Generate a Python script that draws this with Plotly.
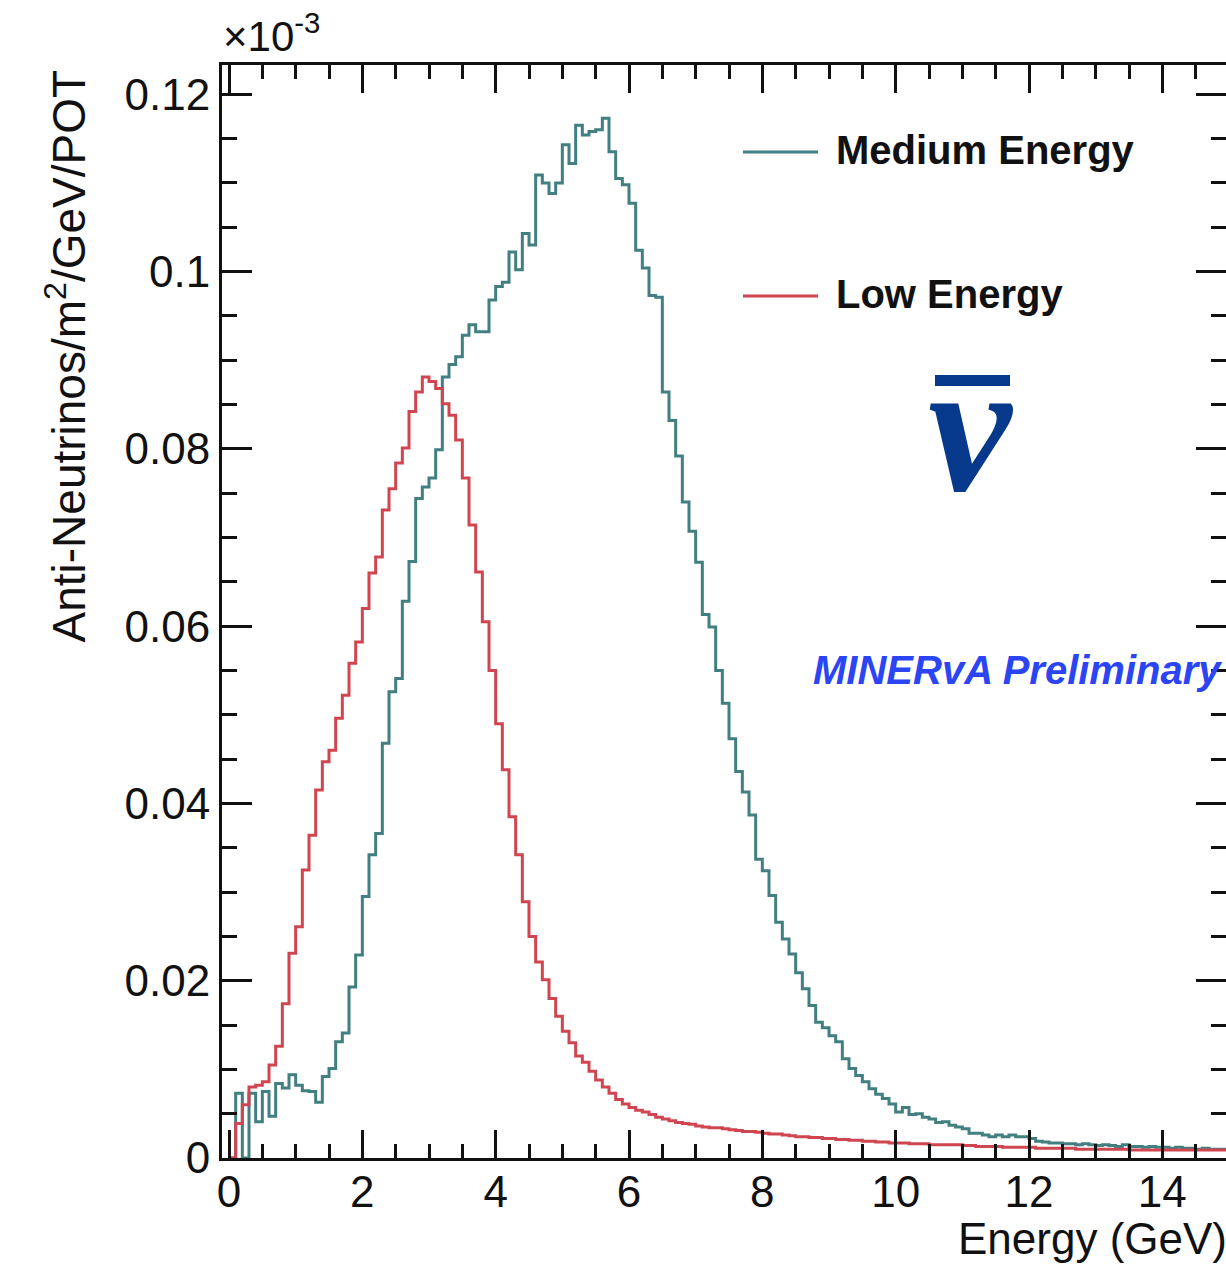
import numpy as np
import plotly.graph_objects as go

# Histogram binning (GeV)
bin_width = 0.1
energy_start = 0.0

# Anti-neutrino flux per bin, in units of 1e-3 /m^2/GeV/POT
medium_energy = [
    0.0, 0.0073, 0.0, 0.0073, 0.0041, 0.0075, 0.0047, 0.0084, 0.0079, 0.0094,
    0.0082, 0.0076, 0.0075, 0.0063,
    0.0092, 0.0101, 0.0131, 0.0141, 0.0193, 0.0229, 0.0295, 0.0342, 0.0366,
    0.0468, 0.0526, 0.0541, 0.0628, 0.0673, 0.0744, 0.0757, 0.0767, 0.0799,
    0.0881, 0.0895, 0.0904, 0.0928, 0.0940, 0.0932, 0.0932, 0.0968,
    0.0983, 0.0988, 0.1022, 0.1002, 0.1043, 0.1030, 0.1109, 0.1100, 0.1088, 0.1100,
    0.1143, 0.1122, 0.1165, 0.1154, 0.1158, 0.1160, 0.1173, 0.1135, 0.1105, 0.1098,
    0.1077, 0.1024, 0.1004, 0.0973, 0.0971, 0.0864, 0.0832, 0.0792, 0.0740, 0.0707,
    0.0672, 0.0613, 0.0599, 0.0550, 0.0513, 0.0473, 0.0436, 0.0413, 0.0387, 0.0337,
    0.0324, 0.0296, 0.0266, 0.0247, 0.0230, 0.0209, 0.0191, 0.0172, 0.0153, 0.0147,
    0.0138, 0.0131, 0.0112, 0.0101, 0.0093, 0.0086, 0.0078, 0.0072, 0.0067, 0.0061,
    0.0052, 0.0057, 0.0049, 0.0050, 0.0046, 0.0044, 0.0040, 0.0041, 0.0037, 0.0035,
    0.0033, 0.0028, 0.0028, 0.0026, 0.0024, 0.0026, 0.0024, 0.0026, 0.0024, 0.0024,
    0.0022, 0.0019, 0.0018, 0.0017, 0.0017, 0.0016, 0.0016, 0.0015, 0.0016, 0.0015,
    0.0014, 0.0015, 0.0014, 0.0013, 0.0015, 0.0013, 0.0013, 0.0012, 0.0013, 0.0012,
    0.0012, 0.0011, 0.0012, 0.0011, 0.0011, 0.0010, 0.0011, 0.0010, 0.0010, 0.0010,
]

low_energy = [
    0.0, 0.0039, 0.0060, 0.0080, 0.0082, 0.0086, 0.0105, 0.0126, 0.0174, 0.0231,
    0.0261, 0.0325, 0.0364, 0.0415,
    0.0447, 0.0460, 0.0496, 0.0522, 0.0558, 0.0582,
    0.0620, 0.0660, 0.0678, 0.0731, 0.0755, 0.0784, 0.0801, 0.0842, 0.0864, 0.0881,
    0.0876, 0.0868, 0.0851, 0.0838, 0.0810, 0.0767, 0.0714, 0.0661, 0.0605, 0.0550,
    0.0490, 0.0438, 0.0385, 0.0342, 0.0289, 0.0250, 0.0221, 0.0201, 0.0180, 0.0160,
    0.0143, 0.0130, 0.0115, 0.0108, 0.0098, 0.0088, 0.0080, 0.0073, 0.0066, 0.0061,
    0.0057, 0.0054, 0.0052, 0.0049, 0.0046, 0.0044, 0.0042, 0.0040, 0.0039, 0.0038,
    0.0036, 0.0035, 0.0034, 0.0034, 0.0033, 0.0032, 0.0031, 0.0030, 0.0030, 0.0029,
    0.0028, 0.0027, 0.0027, 0.0026, 0.0025, 0.0024, 0.0024, 0.0023, 0.0023, 0.0022,
    0.0022, 0.0021, 0.0021, 0.0020, 0.0020, 0.0019, 0.0019, 0.0018, 0.0018, 0.0017,
    0.0017, 0.0017, 0.0016, 0.0016, 0.0016, 0.0015, 0.0015, 0.0015, 0.0015, 0.0015,
    0.0014, 0.0014, 0.0013, 0.0013, 0.0013, 0.0013, 0.0012, 0.0012, 0.0012, 0.0012,
    0.0012, 0.0011, 0.0011, 0.0011, 0.0011, 0.0011, 0.0011, 0.0010, 0.0010, 0.0010,
    0.0010, 0.0010, 0.0010, 0.0010, 0.0010, 0.0009, 0.0009, 0.0009, 0.0009, 0.0009,
    0.0009, 0.0009, 0.0009, 0.0009, 0.0009, 0.0009, 0.0009, 0.0009, 0.0009, 0.0009,
]

series_names = ["Medium Energy", "Low Energy"]
series_colors = ["#427f80", "#cf4550"]

# Page / frame geometry (pixels)
W, H = 1226, 1266
L, R, T, B = 222, 0, 65, 108
PW, PH = W - L - R, H - T - B

FONT = "Liberation Sans, Arial, Helvetica, sans-serif"
BLACK = "#111111"


def px(xp):
    return (xp - L) / PW


def py(yp):
    return (H - B - yp) / PH


def step_xy(values):
    edges = energy_start + bin_width * np.arange(len(values) + 1)
    return edges, list(values) + [values[-1]]


fig = go.Figure()
for name, vals, col in zip(series_names, [medium_energy, low_energy], series_colors):
    xs, ys = step_xy(vals)
    fig.add_trace(go.Scatter(x=xs, y=ys, mode="lines", name=name,
                             line=dict(color=col, width=3, shape="hv"),
                             showlegend=False, hoverinfo="skip"))

# empty trace that carries the right-hand tick axis
fig.add_trace(go.Scatter(x=[], y=[], yaxis="y2", showlegend=False))

y_range = [0, 0.1233]
x_range = [-0.105, 14.955]

fig.update_layout(
    width=W, height=H,
    margin=dict(l=L, r=R, t=T, b=B, pad=0),
    paper_bgcolor="white", plot_bgcolor="white",
    font=dict(family=FONT, color=BLACK),
    xaxis=dict(range=x_range, tickmode="linear", tick0=0, dtick=2,
               ticks="inside", ticklen=28, tickwidth=3, tickcolor=BLACK,
               minor=dict(dtick=0.5, ticks="inside", ticklen=14, tickwidth=3, tickcolor=BLACK),
               showline=True, linecolor=BLACK, linewidth=3, mirror="ticks",
               showgrid=False, zeroline=False, ticklabelstandoff=-7,
               tickfont=dict(size=44, family=FONT, color=BLACK)),
    yaxis=dict(range=y_range, tickmode="linear", tick0=0, dtick=0.02,
               ticks="inside", ticklen=30, tickwidth=3, tickcolor=BLACK,
               minor=dict(dtick=0.005, ticks="inside", ticklen=15, tickwidth=3, tickcolor=BLACK),
               showline=True, linecolor=BLACK, linewidth=3,
               showgrid=False, zeroline=False, ticklabelstandoff=0,
               tickfont=dict(size=44, family=FONT, color=BLACK)),
    yaxis2=dict(range=y_range, overlaying="y", side="right", anchor="x",
                tickmode="linear", tick0=0, dtick=0.02,
                ticks="inside", ticklen=30, tickwidth=3, tickcolor=BLACK,
                minor=dict(dtick=0.005, ticks="inside", ticklen=15, tickwidth=3, tickcolor=BLACK),
                showline=False, showgrid=False, zeroline=False, showticklabels=False),
)

# legend keys
for yp, col in zip([152, 296], series_colors):
    fig.add_shape(type="line", xref="paper", yref="paper",
                  x0=px(743), x1=px(818), y0=py(yp), y1=py(yp),
                  line=dict(color=col, width=3))
for yp, name in zip([150, 294], series_names):
    fig.add_annotation(xref="paper", yref="paper", x=px(834), y=py(yp),
                       xanchor="left", yanchor="middle", showarrow=False,
                       text="<b>%s</b>" % name,
                       font=dict(size=40, family=FONT, color=BLACK))

# anti-neutrino symbol
NU_BLUE = "#06388c"
fig.add_shape(type="rect", xref="paper", yref="paper",
              x0=px(935), x1=px(1010), y0=py(386), y1=py(375),
              fillcolor=NU_BLUE, line=dict(width=0))
fig.add_annotation(xref="paper", yref="paper", x=px(971), y=py(426),
                   xanchor="center", yanchor="middle", showarrow=False,
                   text="<b><i>ν</i></b>",
                   font=dict(size=188, family="Liberation Serif, serif", color=NU_BLUE))

fig.add_annotation(xref="paper", yref="paper", x=px(811), y=py(670),
                   xanchor="left", yanchor="middle", showarrow=False,
                   text="<b><i>MINERvA Preliminary</i></b>",
                   font=dict(size=40, family=FONT, color="#2b45f5"))

# axis titles and exponent
fig.add_annotation(xref="paper", yref="paper", x=px(65), y=py(68),
                   xanchor="center", yanchor="top", showarrow=False, textangle=-90,
                   text="Anti-Neutrinos/m<sup>2</sup>/GeV/POT",
                   font=dict(size=46, family=FONT, color=BLACK))
fig.add_annotation(xref="paper", yref="paper", x=px(1229), y=py(1238),
                   xanchor="right", yanchor="middle", showarrow=False,
                   text="Energy (GeV)",
                   font=dict(size=44, family=FONT, color=BLACK))
fig.add_annotation(xref="paper", yref="paper", x=px(221), y=py(62),
                   xanchor="left", yanchor="bottom", showarrow=False,
                   text="×10<sup>-3</sup>",
                   font=dict(size=42, family=FONT, color=BLACK))

fig.write_html("out.html")
